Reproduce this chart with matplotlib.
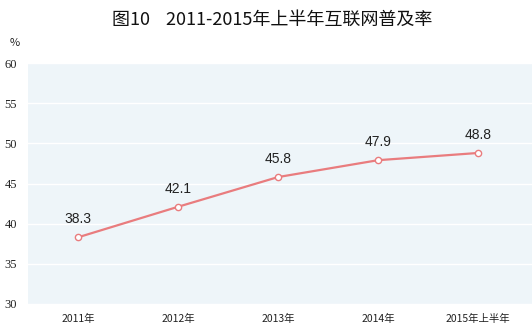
import matplotlib
matplotlib.use('Agg')
import matplotlib.pyplot as plt

plt.rcParams['font.family'] = ['Noto Sans CJK SC', 'DejaVu Sans']

TITLE      = '图10    2011-2015年上半年互联网普及率'
categories = ['2011年', '2012年', '2013年', '2014年', '2015年上半年']
rates      = [38.3, 42.1, 45.8, 47.9, 48.8]
yticks     = [30, 35, 40, 45, 50, 55, 60]

LINE_COLOR = '#E97C7E'
BG_COLOR   = '#EEF5F9'

#------------------------------------------------------------------------------
def main():
  fig = plt.figure(figsize=(5.32, 3.35), dpi=100)
  ax = fig.add_axes([28/532, 1 - 304/335, 504/532, 241/335])
  ax.set_facecolor(BG_COLOR)

  x = list(range(len(categories)))
  ax.plot(x, rates, color=LINE_COLOR, lw=1.6, marker='o', ms=4.5,
          mfc='white', mec=LINE_COLOR, mew=1.0, zorder=3)
  for xi, v in zip(x, rates):
    ax.annotate('{:.1f}'.format(v), (xi, v), xytext=(0, 8), textcoords='offset points',
                ha='center', va='bottom', fontsize=10, family='Liberation Sans', color='#222222')

  ax.set_xlim(-0.5, 4.54)
  ax.set_ylim(30, 60)
  ax.set_yticks(yticks)
  ax.set_yticklabels([str(t) for t in yticks], fontsize=9, family='Liberation Serif')
  ax.set_xticks(x)
  ax.set_xticklabels(categories, fontsize=7.5)
  ax.tick_params(axis='y', length=0, pad=8, colors='#222222')
  ax.tick_params(axis='x', length=0, pad=7, colors='#222222')
  ax.yaxis.grid(True, color='white', lw=1.0)
  ax.set_axisbelow(True)
  for s in ax.spines.values():
    s.set_visible(False)

  fig.text(272/532, 1 - 20/335, TITLE, ha='center', va='center', fontsize=13,
           fontweight='medium', color='#111111')
  fig.text(15/532, 1 - 43/335, '%', ha='center', va='center', fontsize=8, color='#222222')

  fig.savefig('out.png', dpi=100)

#------------------------------------------------------------------------------
if __name__ == '__main__':
  main()
